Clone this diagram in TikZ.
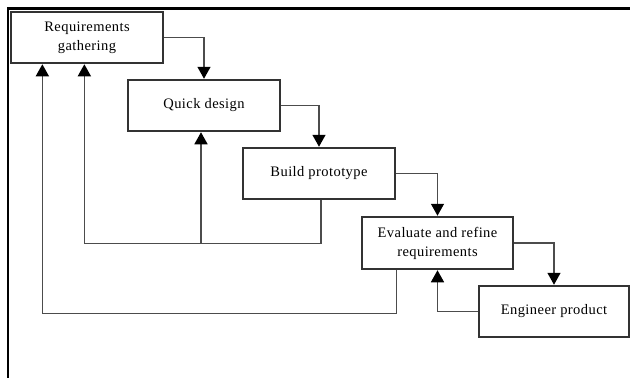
\documentclass[tikz,border=0pt]{standalone}
\usepackage{fontspec}
\setmainfont{Liberation Serif}[LetterSpace=3]
\usetikzlibrary{arrows.meta,calc}
\begin{document}
\begin{tikzpicture}[x=1pt,y=-1pt,
  stagebox/.style={draw=black!80,line width=1.3pt,rectangle,inner sep=0pt,align=center,
    font=\fontsize{14.5}{19}\selectfont},
  conn/.style={draw=black!70,line width=1.4pt},
  arr/.style={conn,-{Triangle[width=13pt,length=12pt,color=black]},shorten >=0.6pt}]
\useasboundingbox (0,0) rectangle (630,378);
% frame
\draw[line width=2.6pt] (630,8.5) -- (8,8.5) -- (8,378);
% stages
\node[stagebox,minimum width=152pt,minimum height=51pt] (b1) at (87,37.5) {Requirements\\gathering};
\node[stagebox,minimum width=152pt,minimum height=51pt] (b2) at (204,105.5) {Quick design};
\node[stagebox,minimum width=152pt,minimum height=51pt] (b3) at (319,173.5) {Build prototype};
\node[stagebox,minimum width=151pt,minimum height=52pt] (b4) at (437.5,243) {Evaluate and refine\\requirements};
\node[stagebox,minimum width=150pt,minimum height=51pt] (b5) at (554,311.5) {Engineer product};
% forward flow
\draw[arr] (b1.east) -| (b2.north);
\draw[arr] (b2.east) -| (b3.north);
\draw[arr] (b3.east) -| (b4.north);
\draw[arr] (b4.east) -| (b5.north);
% feedback
\draw[arr] (b5.west) -| (b4.south);
\coordinate (fbA) at ($(b3.south)+(2,44)$);
\coordinate (fbB) at ($(b1.south west)+(74,180)$);
\draw[arr] ($(b3.south)+(2,0)$) -- (fbA) -- (fbB) -- ($(b1.south west)+(74,0)$);
\draw[arr] (fbA -| b2.south) ++(-3,0) -- ($(b2.south)+(-3,0)$);
\coordinate (fbC) at ($(b4.south west)+(35,44)$);
\draw[arr] ($(b4.south west)+(35,0)$) -- (fbC) -- ($(b1.south west)+(32,250)$) -- ($(b1.south west)+(32,0)$);
\end{tikzpicture}
\end{document}
